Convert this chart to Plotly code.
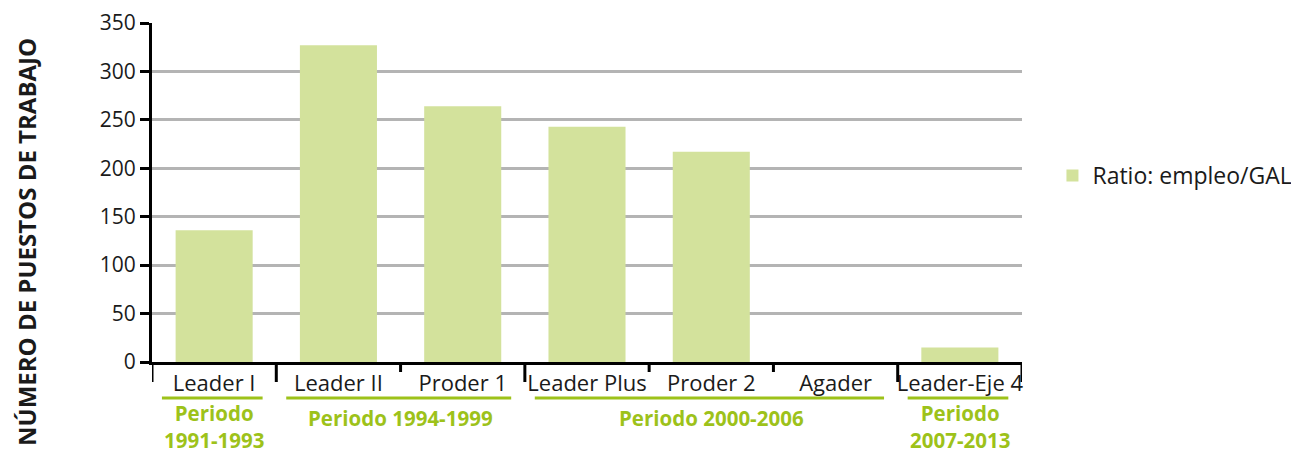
import plotly.graph_objects as go

categories = ["Leader I", "Leader II", "Proder 1", "Leader Plus", "Proder 2", "Agader", "Leader-Eje 4"]
ratio_values = [136, 327, 264, 243, 217, 0, 15]
series_name = "Ratio: empleo/GAL"
y_title = "NÚMERO DE PUESTOS DE TRABAJO"
y_ticks = [0, 50, 100, 150, 200, 250, 300, 350]
periods = [["Periodo", "1991-1993"], ["Periodo 1994-1999"], ["Periodo 2000-2006"], ["Periodo", "2007-2013"]]
period_spans = [(0, 0), (1, 2), (3, 5), (6, 6)]
long_boundaries = [-0.5, 0.5, 2.5, 5.5, 6.5]
short_boundaries = [1.5, 3.5, 4.5]

GREEN = "#9dc21a"
BAR = "#d3e29c"
FONT = "Open Sans"
TXT = "#1a1a1a"

# page has an 8px body margin, so the figure is sized/offset accordingly
W, H = 1291, 449
ML, MT, MR, MB = 144, 15, 277, 95
plot_h = H - MT - MB
plot_w = W - ML - MR

fig = go.Figure()
fig.add_trace(go.Bar(
    x=list(range(len(categories))), y=ratio_values, name=series_name,
    marker=dict(color=BAR, line=dict(width=0)), width=0.62, showlegend=True,
))

shapes = []
for b in long_boundaries:
    shapes.append(dict(type="line", xref="x", yref="paper", x0=b, x1=b, y0=0, y1=-20 / plot_h,
                       line=dict(color="black", width=3)))
for b in short_boundaries:
    shapes.append(dict(type="line", xref="x", yref="paper", x0=b, x1=b, y0=0, y1=-10 / plot_h,
                       line=dict(color="black", width=3)))

annotations = []
for lines, (a, b) in zip(periods, period_spans):
    shapes.append(dict(type="line", xref="x", yref="paper", x0=a - 0.42, x1=b + 0.39,
                       y0=-36 / plot_h, y1=-36 / plot_h, line=dict(color=GREEN, width=3)))
    if len(lines) == 1:
        annotations.append(dict(x=(a + b) / 2, y=-56 / plot_h, xref="x", yref="paper",
                                text=f"<b>{lines[0]}</b>", showarrow=False, yanchor="middle",
                                font=dict(family=FONT, size=20.5, color=GREEN)))
    else:
        annotations.append(dict(x=(a + b) / 2, y=-93.5 / plot_h, xref="x", yref="paper",
                                text="<br>".join(f"<b>{l}</b>" for l in lines), showarrow=False,
                                yanchor="bottom", font=dict(family=FONT, size=20.5, color=GREEN)))

annotations.append(dict(x=-126 / plot_w, y=120 / plot_h, xref="paper", yref="paper",
                        text=f"<b>{y_title}</b>", textangle=-90, showarrow=False,
                        xanchor="center", yanchor="middle",
                        font=dict(family=FONT, size=24, color=TXT)))

fig.update_layout(
    width=W, height=H,
    margin=dict(l=ML, r=MR, t=MT, b=MB, autoexpand=False),
    paper_bgcolor="white", plot_bgcolor="white",
    font=dict(family=FONT, size=22, color=TXT),
    showlegend=True,
    legend=dict(x=1.035, y=0.55, xanchor="left", yanchor="middle",
                font=dict(family=FONT, size=23, color=TXT)),
    xaxis=dict(range=[-0.5, 6.5], tickmode="array", tickvals=list(range(len(categories))),
               ticktext=categories, showgrid=False, zeroline=False, showline=True,
               linecolor="black", linewidth=3, ticks="", ticklabelstandoff=0, automargin=False,
               tickfont=dict(family=FONT, size=22, color=TXT)),
    yaxis=dict(range=[0, 350], tickvals=y_ticks, showgrid=True, gridcolor="#b4b4b4", gridwidth=3,
               zeroline=False, showline=True, linecolor="black", linewidth=3, automargin=False,
               ticks="outside", ticklen=9, tickwidth=3, tickcolor="black",
               ticklabeloverflow="allow",
               tickfont=dict(family=FONT, size=21, color=TXT)),
    shapes=shapes, annotations=annotations, bargap=0.38,
)
fig.write_html("out.html")
